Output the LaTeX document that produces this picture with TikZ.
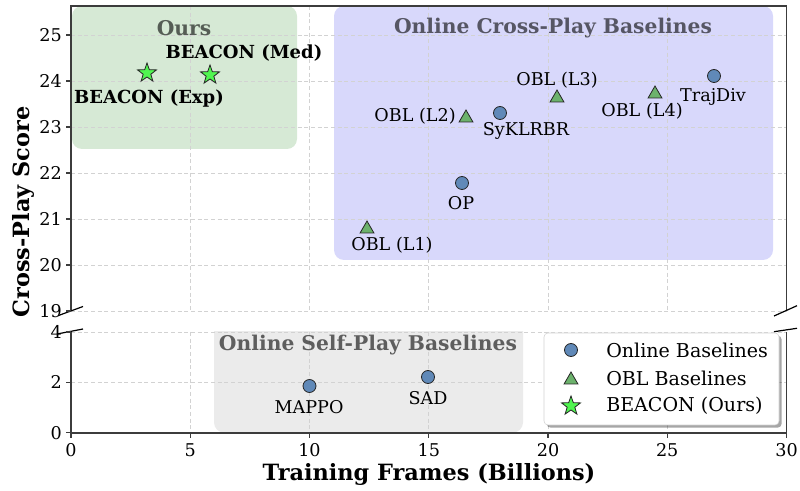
\documentclass[tikz,border=0pt]{standalone}
\usepackage{fontspec}
\setmainfont{DejaVu Serif}
\usetikzlibrary{shapes.geometric,shadows}
\definecolor{circfill}{RGB}{96,137,184}
\definecolor{trifill}{RGB}{108,178,108}
\definecolor{starfill}{RGB}{80,245,80}
\definecolor{oursbg}{RGB}{214,233,213}
\definecolor{crossbg}{RGB}{216,216,251}
\definecolor{selfbg}{RGB}{235,235,235}
\definecolor{spine}{RGB}{60,60,60}
\definecolor{gridc}{RGB}{210,210,210}
\begin{document}
\begin{tikzpicture}[x=0.75pt,y=-0.75pt,
  lab/.style={font=\fontsize{13.2}{15}\selectfont, inner sep=0pt},
  boldlab/.style={font=\fontsize{13.5}{15}\selectfont\bfseries, inner sep=0pt},
  regtitle/.style={font=\fontsize{15.2}{17}\selectfont\bfseries, inner sep=0pt, text=black, text opacity=0.6},
  axlab/.style={font=\fontsize{16.8}{19}\selectfont\bfseries, inner sep=0pt},
  ticklab/.style={font=\fontsize{13.2}{15}\selectfont, inner sep=0pt},
  leglab/.style={font=\fontsize{14.3}{16}\selectfont, inner sep=0pt},
  circm/.style={circle, draw=black!85, fill=circfill, minimum size=9.75pt, inner sep=0pt, line width=0.6pt},
  trim/.style={regular polygon, regular polygon sides=3, draw=black!85, fill=trifill, minimum size=12pt, inner sep=0pt, line width=0.6pt},
  starm/.style={star, star points=5, star point ratio=2.5, draw=black!85, fill=starfill, minimum size=15pt, inner sep=0pt, line width=0.6pt},
  gridl/.style={gridc, dash pattern=on 3pt off 2pt, line width=0.6pt},
  spinel/.style={spine, line width=0.9pt},
  breakl/.style={black, line width=0.9pt},
  tickl/.style={spine, line width=0.8pt}
]
\useasboundingbox (0,0) rectangle (800,491);

% shaded regions
\fill[oursbg, rounded corners=7.5pt] (72,6) rectangle (297,149);
\fill[crossbg, rounded corners=7.5pt] (334,6) rectangle (773,260);
\begin{scope}
  \clip (71,332) rectangle (786.5,433);
  \fill[selfbg, rounded corners=7.5pt] (214,315) rectangle (523,432.5);
\end{scope}

% grid, top panel
\foreach \gx in {190.2,309.5,428.8,548,667.2}
  \draw[gridl] (\gx,6) -- (\gx,311);
\foreach \gy in {35,81,127,173,219,265,311}
  \draw[gridl] (71,\gy) -- (786.5,\gy);
% grid, bottom panel
\foreach \gx in {190.2,309.5,428.8,548,667.2}
  \draw[gridl] (\gx,332) -- (\gx,433);
\foreach \gy in {332,382.3}
  \draw[gridl] (71,\gy) -- (786.5,\gy);

% spines
\draw[spinel] (71,311) -- (71,6) -- (786.5,6) -- (786.5,311);
\draw[spinel] (71,332) -- (71,433) -- (786.5,433) -- (786.5,332);

% break marks
\draw[breakl] (58,315.7) -- (83,306.5);
\draw[breakl] (57,334) -- (83,329);
\draw[breakl] (774,316) -- (797,305.7);
\draw[breakl] (774,331.7) -- (797,328.3);

% y ticks top
\foreach \gy/\lab in {35/25,81/24,127/23,173/22,219/21,265/20,311/19}{
  \draw[tickl] (66,\gy) -- (71,\gy);
  \node[ticklab, anchor=east] (yt\lab) at (62,\gy) {\lab};
}
% y ticks bottom
\foreach \gy/\lab in {332/4,382.3/2,432.7/0}{
  \draw[tickl] (66,\gy) -- (71,\gy);
  \node[ticklab, anchor=east] (yb\lab) at (62,\gy) {\lab};
}
% x ticks
\foreach \gx/\lab in {71/0,190.2/5,309.5/10,428.8/15,548/20,667.2/25,786.5/30}{
  \draw[tickl] (\gx,433) -- (\gx,438);
  \node[ticklab, anchor=north] (xt\lab) at (\gx,443.5) {\lab};
}

% axis labels
\node[axlab] (xlabel) at (429,474) {Training Frames (Billions)};
\node[axlab, rotate=90] (ylabel) at (23,212) {Cross-Play Score};

% region titles
\node[regtitle] (tours) at (184,28) {Ours};
\node[regtitle] (tcross) at (553,28) {Online Cross-Play Baselines};
\node[regtitle] (tself) at (368,345) {Online Self-Play Baselines};

% data markers
\node[starm] (bexp) at (147,73) {};
\node[starm] (bmed) at (210,75) {};
\node[trim] (l2) at (466,118) {};
\node[circm] (sykl) at (500,113) {};
\node[trim] (l3) at (557,98) {};
\node[trim] (l4) at (655,94) {};
\node[circm] (traj) at (714,76) {};
\node[circm] (op) at (462,183) {};
\node[trim] (l1) at (367,229) {};
\node[circm] (mappo) at (309.5,386) {};
\node[circm] (sad) at (428,377) {};

% data labels
\node[boldlab] (lbmed) at (244,53) {BEACON (Med)};
\node[boldlab] (lbexp) at (149,99) {BEACON (Exp)};
\node[lab, anchor=east] (ll2) at (456,116) {OBL (L2)};
\node[lab] (lsykl) at (526,131) {SyKLRBR};
\node[lab] (ll3) at (557,80) {OBL (L3)};
\node[lab] (ll4) at (642,111) {OBL (L4)};
\node[lab] (ltraj) at (713,97) {TrajDiv};
\node[lab] (lop) at (461,203) {OP};
\node[lab] (ll1) at (392,245) {OBL (L1)};
\node[lab] (lmappo) at (309,407) {MAPPO};
\node[lab] (lsad) at (428,398) {SAD};

% legend
\node[draw=gridc, fill=white, rounded corners=3pt, minimum width=176.25pt, minimum height=69pt, inner sep=0pt,
  drop shadow={shadow xshift=2pt, shadow yshift=-2pt, fill=black, opacity=0.35}] (legend) at (661.5,379) {};
\node[circm] (lgc) at (571,350) {};
\node[trim] (lgt) at (571,380) {};
\node[starm] (lgs) at (571,406) {};
\node[leglab, anchor=west] (lgct) at (606,350) {Online Baselines};
\node[leglab, anchor=west] (lgtt) at (606,378) {OBL Baselines};
\node[leglab, anchor=west] (lgst) at (606,406) {BEACON (Ours)};
\end{tikzpicture}
\end{document}
